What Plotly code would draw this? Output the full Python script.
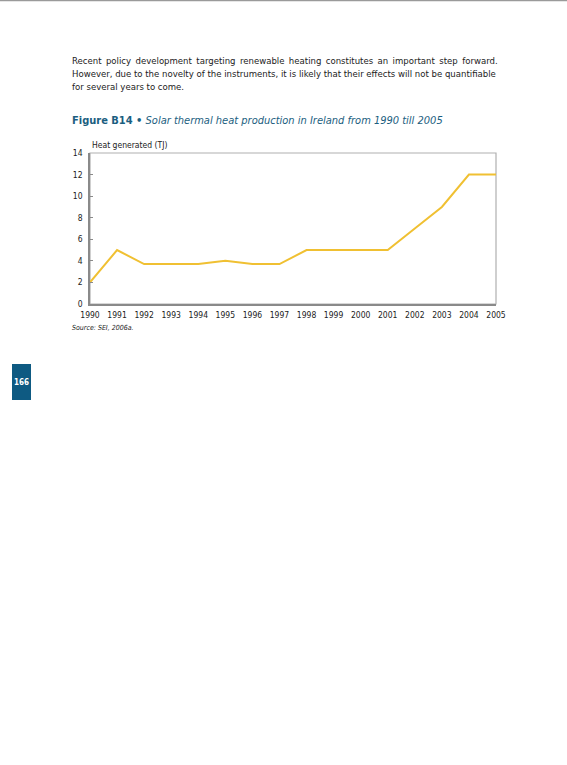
import plotly.graph_objects as go

# data
years = list(range(1990, 2006))
heat_tj = [2.0, 5.0, 3.7, 3.7, 3.7, 4.0, 3.7, 3.7, 5.0, 5.0, 5.0, 5.0, 7.0, 9.0, 12.0, 12.0]
y_ticks = [0, 2, 4, 6, 8, 10, 12, 14]

W, H = 567, 765
FONT = "DejaVu Sans Condensed, DejaVu Sans, sans-serif"
BLUE = "#1b5e80"


def px(x):
    return x / W


def py(y):
    return 1 - y / H


fig = go.Figure()
fig.add_trace(go.Scatter(x=years, y=heat_tj, mode="lines",
                         line=dict(color="#f0c032", width=2),
                         hoverinfo="x+y", showlegend=False))

fig.update_layout(
    width=W, height=H,
    margin=dict(l=0, r=0, t=0, b=0, autoexpand=False),
    paper_bgcolor="white", plot_bgcolor="white",
    font=dict(family=FONT, size=8, color="#222"),
    xaxis=dict(domain=[px(90), px(496)], range=[1990, 2005], automargin=False,
               tickvals=years, ticks="", showgrid=False, zeroline=False,
               showline=True, linecolor="#8a8a8a", linewidth=1.5,
               tickfont=dict(size=8.5), ticklabelstandoff=2),
    yaxis=dict(domain=[py(304), py(153)], range=[0, 14], automargin=False,
               tickvals=y_ticks, ticks="inside", ticklen=3, tickcolor="#8a8a8a",
               showgrid=False, zeroline=False,
               showline=True, linecolor="#8a8a8a", linewidth=1.5,
               tickfont=dict(size=8.5), ticklabelstandoff=4),
)

# frame top/right
fig.add_shape(type="rect", xref="paper", yref="paper",
              x0=px(90), x1=px(496), y0=py(304), y1=py(153),
              line=dict(color="#b0b0b0", width=1.2), layer="below")

# page top rule
fig.add_shape(type="line", xref="paper", yref="paper",
              x0=0, x1=1, y0=py(0.5), y1=py(0.5),
              line=dict(color="#9a9a9a", width=1.5))

# page number tab
fig.add_shape(type="rect", xref="paper", yref="paper",
              x0=px(12), x1=px(31), y0=py(400), y1=py(364),
              fillcolor="#0e5a82", line=dict(width=0))
fig.add_annotation(x=px(21.5), y=py(382), xref="paper", yref="paper",
                   text="<b>166</b>", showarrow=False,
                   xanchor="center", yanchor="middle",
                   font=dict(size=8, color="white", family=FONT))

para = [
    "Recent policy development targeting renewable heating constitutes an important step forward.",
    "However, due to the novelty of the instruments, it is likely that their effects will not be quantifiable",
    "for several years to come.",
]
# first line is justified in the original: widen its word gaps a little
para[0] = para[0].replace(" ", " \u2009")
for i, line in enumerate(para):
    fig.add_annotation(x=px(70), y=py(61 + i * 12.5), xref="paper", yref="paper",
                       text=line, showarrow=False, xanchor="left", yanchor="middle",
                       font=dict(size=9.5, color="#222", family=FONT))

fig.add_annotation(x=px(70), y=py(120), xref="paper", yref="paper",
                   text="<b>Figure B14 •</b> <i>Solar thermal heat production in Ireland from 1990 till 2005</i>",
                   showarrow=False, xanchor="left", yanchor="middle",
                   font=dict(size=11, color=BLUE, family=FONT))

fig.add_annotation(x=px(90), y=py(145), xref="paper", yref="paper",
                   text="Heat generated (TJ)", showarrow=False,
                   xanchor="left", yanchor="middle",
                   font=dict(size=8.5, color="#222", family=FONT))

fig.add_annotation(x=px(70), y=py(328), xref="paper", yref="paper",
                   text="<i>Source: SEI, 2006a.</i>", showarrow=False,
                   xanchor="left", yanchor="middle",
                   font=dict(size=7, color="#222", family=FONT))

fig.write_html("out.html", config={"displayModeBar": False},
               post_script="document.body.style.margin='0';")
